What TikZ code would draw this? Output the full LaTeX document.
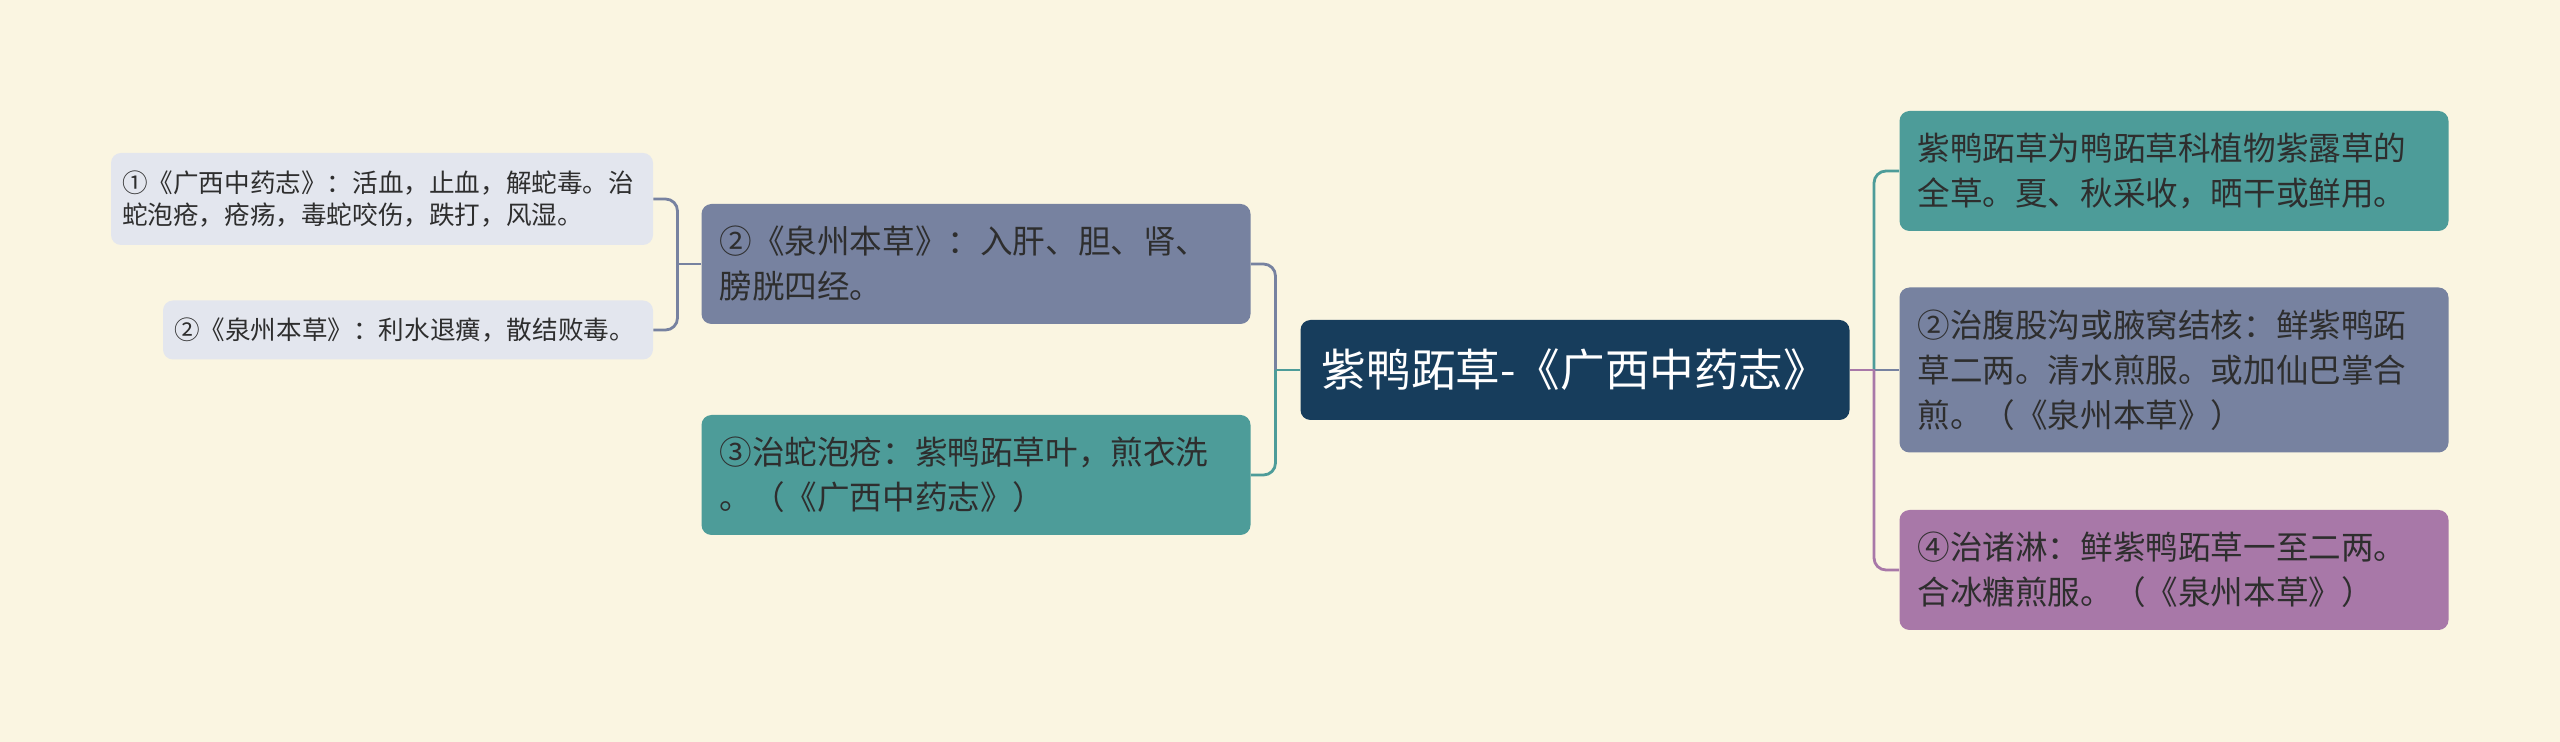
\documentclass[tikz,border=0pt]{standalone}
\usepackage{fontspec}
\setmainfont{Noto Sans CJK SC}
\usetikzlibrary{positioning}

\definecolor{paper}{HTML}{FAF5E1}
\definecolor{rootblue}{HTML}{173D5C}
\definecolor{slate}{HTML}{7782A0}
\definecolor{teal}{HTML}{4D9C99}
\definecolor{plum}{HTML}{A878A8}
\definecolor{mist}{HTML}{E3E6EE}
\definecolor{ink}{HTML}{2E2E2E}

\begin{document}
\begin{tikzpicture}[x=0.5pt, y=-0.5pt,
    root/.style={fill=rootblue, text=white, rounded corners=5pt, align=center,
      minimum width=274.5pt, minimum height=50pt, inner sep=0pt,
      font=\fontsize{22.3}{26}\selectfont},
    topic/.style={rounded corners=5pt, align=left, inner xsep=9pt, inner ysep=0pt,
      text width=256.5pt, minimum height=60pt, text=ink,
      font=\fontsize{16.3}{22.5}\selectfont},
    leaf/.style={fill=mist, rounded corners=5pt, align=left, inner xsep=5.5pt, inner ysep=0pt,
      text=ink, font=\fontsize{12.8}{16.3}\selectfont},
    link/.style={line width=1.4pt, rounded corners=6pt}]

  % page and background
  \fill[paper] (0,0) rectangle (2560,742);
  \useasboundingbox (0,0) rectangle (2560,742);

  % central topic
  \node[root] (root) at (1575,370) {紫鸭跖草-《广西中药志》};

  % left side
  \node[topic, fill=slate] (quanzhou) at (976,264)
    {②《泉州本草》：入肝、胆、肾、\\膀胱四经。};
  \node[topic, fill=teal] (shepao) at (976,475)
    {③治蛇泡疮：紫鸭跖草叶，煎衣洗\\。（《广西中药志》）};

  % far left leaves
  \node[leaf, text width=260pt, minimum height=46pt] (guangxi) at (382,199)
    {①《广西中药志》：活血，止血，解蛇毒。治\\蛇泡疮，疮疡，毒蛇咬伤，跌打，风湿。};
  \node[leaf, text width=234pt, minimum height=29.5pt] (lishui) at (408,330)
    {②《泉州本草》：利水退癀，散结败毒。};

  % right side
  \node[topic, fill=teal] (quancao) at (2174,171)
    {紫鸭跖草为鸭跖草科植物紫露草的\\全草。夏、秋采收，晒干或鲜用。};
  \node[topic, fill=slate, minimum height=82.5pt] (fugu) at (2174,370)
    {②治腹股沟或腋窝结核：鲜紫鸭跖\\草二两。清水煎服。或加仙巴掌合\\煎。（《泉州本草》）};
  \node[topic, fill=plum] (zhulin) at (2174,570)
    {④治诸淋：鲜紫鸭跖草一至二两。\\合冰糖煎服。（《泉州本草》）};

  % junctions of the branches
  \coordinate (lbus) at (1275.5,370);
  \coordinate (rbus) at (1874,370);
  \coordinate (qbus) at (677.5,264);

  % connectors
  \draw[link, slate] (lbus) |- (quanzhou.east);
  \draw[link, teal] (lbus) |- (shepao.east);
  \draw[link, teal] (root.west) -- (lbus);

  \draw[link, teal] (rbus) |- (quancao.west);
  \draw[link, slate] (rbus) -- (fugu.west);
  \draw[link, plum] (rbus) |- (zhulin.west);
  \draw[link, plum] (root.east) -- (rbus);

  \draw[link, slate] (quanzhou.west) -- (qbus);
  \draw[link, slate] (qbus) |- (guangxi.east);
  \draw[link, slate] (qbus) |- (lishui.east);

\end{tikzpicture}
\end{document}
